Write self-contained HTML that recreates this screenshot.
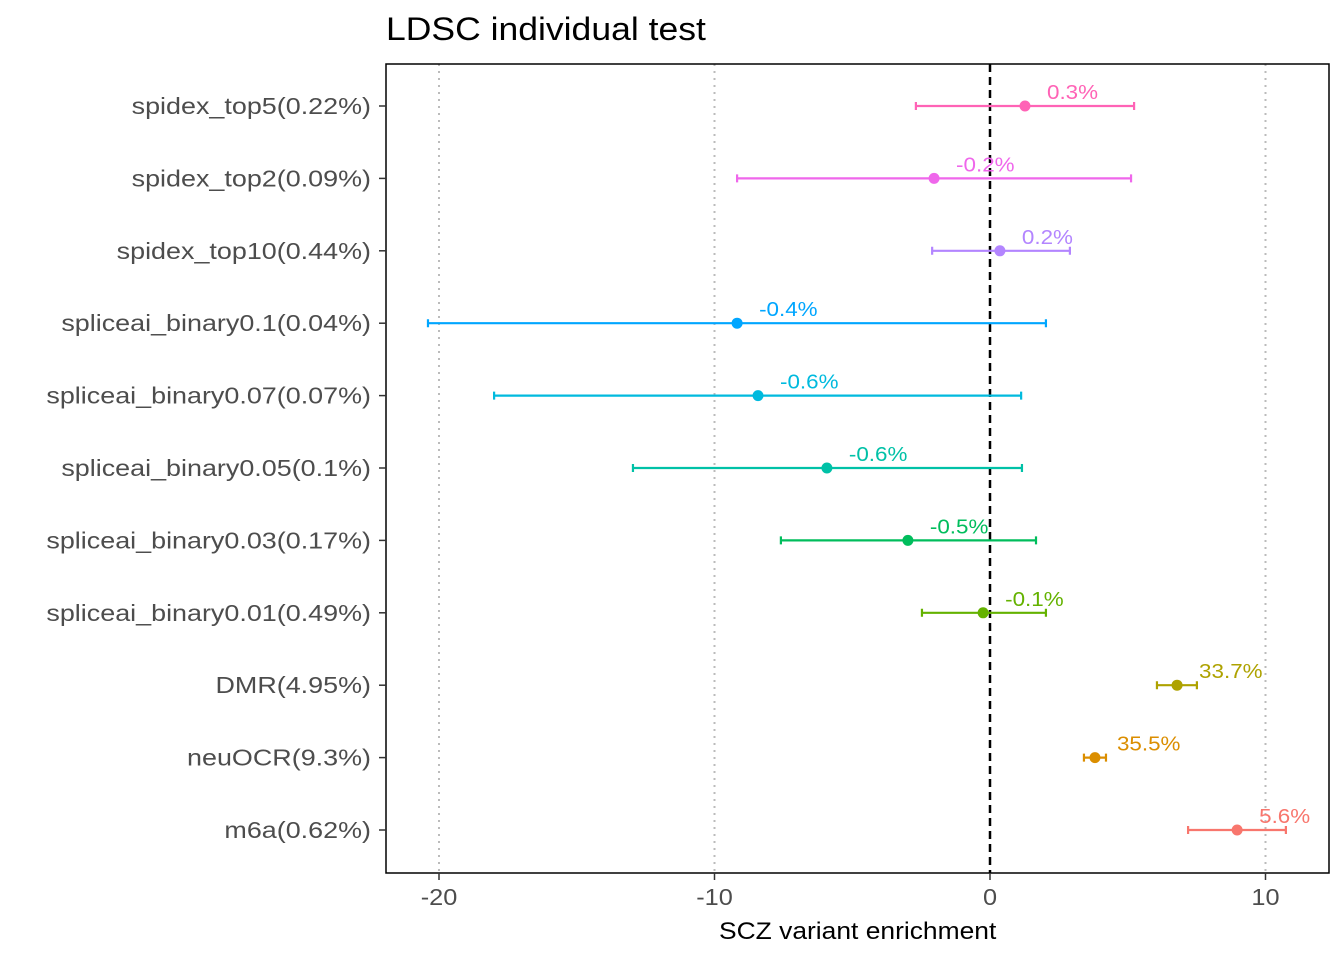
<!DOCTYPE html>
<html><head><meta charset="utf-8"><style>
body{margin:0;background:#fff;font-family:"Liberation Sans",sans-serif}
</style></head><body>
<svg id="chart" width="1344" height="960" xmlns="http://www.w3.org/2000/svg">
<text id="title" x="386" y="40" font-size="32" fill="#000">LDSC individual test</text>
<g id="grid"></g>
<g id="marks"></g>
<rect x="386" y="64" width="943" height="809" fill="none" stroke="#000" stroke-width="1.5"/>
<g id="axes"></g>
<text id="xtitle" x="719" y="939" font-size="24" fill="#000">SCZ variant enrichment</text>
</svg>
<script>
const categories=["m6a(0.62%)","neuOCR(9.3%)","DMR(4.95%)","spliceai_binary0.01(0.49%)","spliceai_binary0.03(0.17%)","spliceai_binary0.05(0.1%)","spliceai_binary0.07(0.07%)","spliceai_binary0.1(0.04%)","spidex_top10(0.44%)","spidex_top2(0.09%)","spidex_top5(0.22%)"];
const estimates=[8.97,3.81,6.79,-0.25,-2.98,-5.92,-8.42,-9.18,0.36,-2.03,1.27];
const lower=[7.19,3.41,6.06,-2.47,-7.59,-12.96,-18.0,-20.4,-2.1,-9.18,-2.69];
const upper=[10.74,4.21,7.51,2.03,1.67,1.16,1.13,2.03,2.9,5.12,5.23];
const pctLabels=["5.6%","35.5%","33.7%","-0.1%","-0.5%","-0.6%","-0.6%","-0.4%","0.2%","-0.2%","0.3%"];
const colors=["#F8766D","#DB8E00","#AEA200","#64B200","#00BD5C","#00C1A7","#00BADE","#00A6FF","#B385FF","#EF67EB","#FF63B6"];
const xTicks=[-20,-10,0,10];
const NS="http://www.w3.org/2000/svg";
const xs=v=>990+v*27.55;
const ys=i=>830-i*72.4;
function mk(tag,attrs,parent,text){const e=document.createElementNS(NS,tag);for(const k in attrs)e.setAttribute(k,attrs[k]);if(text!==undefined)e.textContent=text;parent.appendChild(e);return e;}
function widen(e,f){const w=e.getComputedTextLength();e.setAttribute('textLength',w*f);e.setAttribute('lengthAdjust','spacingAndGlyphs');}
const grid=document.getElementById('grid'),marks=document.getElementById('marks'),axes=document.getElementById('axes');
widen(document.getElementById('title'),1.11);
widen(document.getElementById('xtitle'),1.10);
xTicks.forEach(t=>{
 const g=mk('line',{x1:xs(t),x2:xs(t),y1:64,y2:873,stroke:t===0?'#000':'#bbb','stroke-width':t===0?2.5:2,'stroke-dasharray':t===0?'8,5':'2,5'},grid);
 
 
 const tk=mk('line',{x1:xs(t),x2:xs(t),y1:873,y2:880,stroke:'#333','stroke-width':1.5},axes);
 
 
 const lb=mk('text',{x:xs(t),y:905,'font-size':23,'text-anchor':'middle',fill:'#4d4d4d'},axes,String(t));
 
 
 widen(lb,1.1);
});
categories.forEach((c,i)=>{
 const y=ys(i),col=colors[i];
 const tk=mk('line',{x1:379,x2:386,y1:y,y2:y,stroke:'#333','stroke-width':1.5},axes);
 
 
 const lb=mk('text',{x:371,y:y+8,'font-size':23,'text-anchor':'end',fill:'#4d4d4d'},axes,c);
 
 
 widen(lb,1.17);
 const g=mk('g',{},marks);
 
 
 const eb=mk('path',{d:`M${xs(lower[i])},${y}H${xs(upper[i])}M${xs(lower[i])},${y-4}V${y+4}M${xs(upper[i])},${y-4}V${y+4}`,stroke:col,'stroke-width':2.2,fill:'none'},g);
 
 
 const pt=mk('circle',{cx:xs(estimates[i]),cy:y,r:5.5,fill:col},g);
 
 
 const tl=mk('text',{x:xs(estimates[i])+22,y:y-7,'font-size':20,fill:col},g,pctLabels[i]);
 
 
 widen(tl,1.12);
});
</script>
</body></html>
